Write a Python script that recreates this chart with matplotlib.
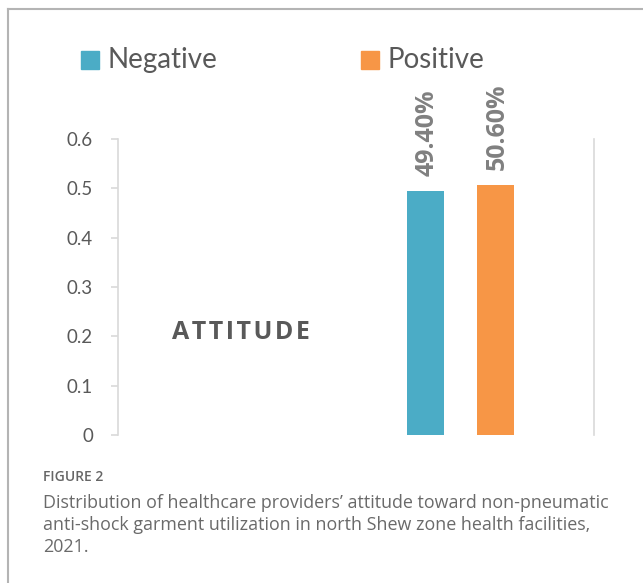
import matplotlib
matplotlib.use("Agg")
import matplotlib.pyplot as plt
from matplotlib.patches import Rectangle
from matplotlib.lines import Line2D

# data
series = ["Negative", "Positive"]
values = [0.494, 0.506]
value_labels = ["49.40%", "50.60%"]
colors = ["#4bacc6", "#f79646"]
category = "ATTITUDE"
yticks = [0, 0.1, 0.2, 0.3, 0.4, 0.5, 0.6]
caption_head = "FIGURE 2"
caption = ("Distribution of healthcare providers\u2019 attitude toward non-pneumatic\n"
           "anti-shock garment utilization in north Shew zone health facilities,\n"
           "2021.")

plt.rcParams['font.family'] = ['Lato', 'DejaVu Sans']
bold_font = ['Open Sans', 'DejaVu Sans']

W, H = 643, 583
fig = plt.figure(figsize=(W / 100, H / 100), dpi=100)
fig.patch.set_facecolor("white")

# outer frame (top and left edges only visible)
fig.add_artist(Line2D([8 / W, 1], [1 - 9 / H, 1 - 9 / H], color="#b4b4b4", lw=1.5))
fig.add_artist(Line2D([8 / W, 8 / W], [0, 1 - 9 / H], color="#b4b4b4", lw=1.5))

ax = fig.add_axes([118 / W, 1 - 435 / H, 476 / W, 296 / H])
ax.set_xlim(0, 1)
ax.set_ylim(0, 0.6)

center = 0.72
offsets = [-0.0735, 0.0735]
width = 0.078
for i in range(2):
    x = center + offsets[i]
    ax.bar(x, values[i], width=width, color=colors[i], zorder=2)
    ax.text(x + 0.003, values[i] + 0.031, value_labels[i], rotation=90, ha="center", va="bottom",
            fontsize=18, fontweight="bold", color="#808080", family=bold_font)

ax.text(0.258, 0.207, "\u200a".join(category), ha="center", va="center",
        fontsize=18, fontweight="bold", color="#595959", family=bold_font)

for s in ["top", "bottom"]:
    ax.spines[s].set_visible(False)
ax.spines["left"].set_color("#d9d9d9")
ax.spines["right"].set_color("#d9d9d9")
ax.spines["left"].set_linewidth(1.2)
ax.spines["right"].set_linewidth(1.2)
ax.set_yticks(yticks)
ax.set_yticklabels([str(t) if t != 0 else "0" for t in yticks])
ax.tick_params(axis="y", colors="#d9d9d9", labelcolor="#595959", labelsize=13.5,
               length=5, width=1.2, pad=13)
ax.set_xticks([])

# legend
for i, (lx, tx) in enumerate([(81, 108), (361, 388)]):
    fig.add_artist(Rectangle((lx / W, 1 - 69 / H), 18 / W, 18 / H, color=colors[i],
                             transform=fig.transFigure))
    fig.text(tx / W, 1 - 60 / H, series[i], ha="left", va="center",
             fontsize=20, color="#595959")

# caption
fig.text(43 / W, 1 - 477 / H, caption_head, ha="left", va="center",
         fontsize=10, color="#666666", fontweight="semibold", family=bold_font)
fig.text(43 / W, 1 - 494 / H, caption, ha="left", va="top",
         fontsize=12.9, color="#6a6a6a", linespacing=1.3, family=bold_font)

fig.savefig("out.png", dpi=100)
